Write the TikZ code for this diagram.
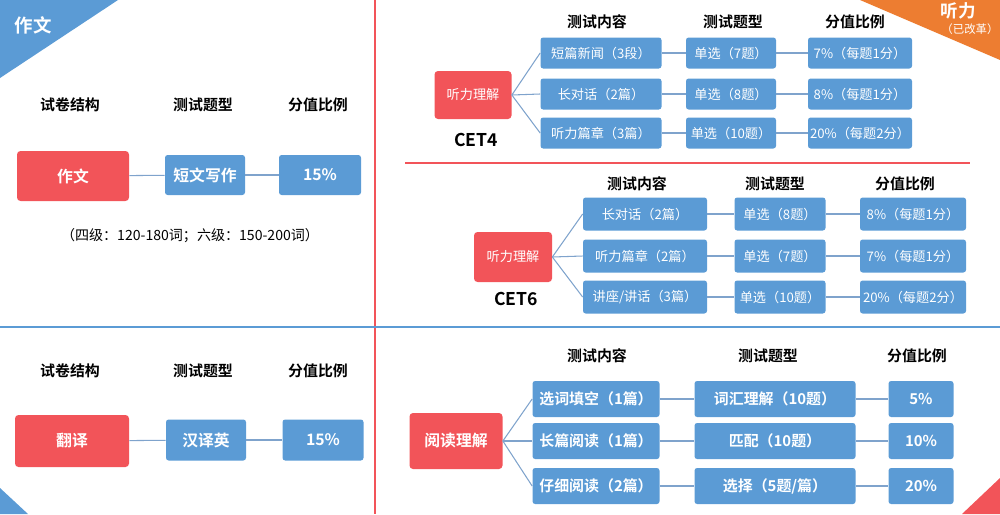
\documentclass[tikz,border=0pt]{standalone}
\usepackage{fontspec}
\setmainfont{Noto Sans CJK SC}
\newfontfamily\cjkb{Noto Sans CJK SC Bold}
\begin{document}
\begin{tikzpicture}[x=0.02cm,y=-0.02cm,
  redb/.style={fill=myred,rounded corners=2pt,text=white,font=\cjkb\fontsize{9}{10}\selectfont},
  blub/.style={fill=myblue,rounded corners=1.5pt,text=white,inner xsep=1pt,font=\fontsize{7.5}{9}\selectfont},
  hdr/.style={font=\cjkb\fontsize{8.5}{10}\selectfont},
  conn/.style={draw=linec,line width=0.6pt}]
\definecolor{myred}{HTML}{F25459}
\definecolor{myblue}{HTML}{5B9BD5}
\definecolor{myorange}{HTML}{ED7D31}
\definecolor{linec}{HTML}{7FA3CC}
\useasboundingbox (0,0) rectangle (1000,514);
% frame lines
\draw[myred,line width=1.6pt] (375,0) -- (375,514);
\draw[myblue,line width=1.6pt] (0,327) -- (1000,327);
\draw[myred,line width=1.4pt] (405,163) -- (970,163);
% corner triangles
\fill[myblue] (0,0) -- (118,0) -- (0,78) -- cycle;
\node[text=white,font=\cjkb\fontsize{10.5}{12}\selectfont] (t1) at (33,25) {作文};
\fill[myblue] (0,488) -- (28,514) -- (0,514) -- cycle;
\fill[myred] (1000,478) -- (1000,514) -- (962,514) -- cycle;
\fill[myorange] (860,0) -- (1000,0) -- (1000,60) -- cycle;
\node[text=white,font=\cjkb\fontsize{10}{12}\selectfont] (t2) at (958,11) {听力};
\node[text=white,font=\fontsize{6.5}{8}\selectfont] (t3) at (970,29) {（已改革）};
% ---- writing
\node[hdr] (h1) at (70,105) {试卷结构};
\node[hdr] (h2) at (203,105) {测试题型};
\node[hdr] (h3) at (318,105) {分值比例};
\node[redb,minimum width=112*0.02cm,minimum height=50*0.02cm] (w1) at (73,176) {作文};
\node[blub,font=\cjkb\fontsize{9}{10}\selectfont,minimum width=80*0.02cm,minimum height=40*0.02cm] (w2) at (205,175) {短文写作};
\node[blub,font=\cjkb\fontsize{9}{10}\selectfont,minimum width=82*0.02cm,minimum height=40*0.02cm] (w3) at (320,175) {15\%};
\draw[conn] (w1) -- (w2); \draw[conn] (w2) -- (w3);
\node[font=\fontsize{8}{10}\selectfont] (wn) at (190,236) {（四级：120-180词；六级：150-200词）};
% ---- translation
\node[hdr] (k1) at (70,371) {试卷结构};
\node[hdr] (k2) at (203,371) {测试题型};
\node[hdr] (k3) at (318,371) {分值比例};
\node[redb,minimum width=114*0.02cm,minimum height=52*0.02cm] (f1) at (72,441) {翻译};
\node[blub,font=\cjkb\fontsize{9}{10}\selectfont,minimum width=80*0.02cm,minimum height=41*0.02cm] (f2) at (206,440) {汉译英};
\node[blub,font=\cjkb\fontsize{9}{10}\selectfont,minimum width=81*0.02cm,minimum height=41*0.02cm] (f3) at (323,440) {15\%};
\draw[conn] (f1) -- (f2); \draw[conn] (f2) -- (f3);
% ---- CET4
\node[hdr] (a1) at (597,22) {测试内容};
\node[hdr] (a2) at (733,22) {测试题型};
\node[hdr] (a3) at (855,22) {分值比例};
\node[redb,font=\fontsize{7.5}{9}\selectfont,minimum width=77*0.02cm,minimum height=48*0.02cm] (c4) at (473,95) {听力理解};
\node[font=\cjkb\fontsize{10}{12}\selectfont] (c4l) at (476,140) {CET4};
\foreach \n/\y/\a/\b/\c in {1/53/{短篇新闻（3段）}/{单选（7题）}/{7\%（每题1分）},
                             2/94/{长对话（2篇）}/{单选（8题）}/{8\%（每题1分）},
                             3/133/{听力篇章（3篇）}/{单选（10题）}/{20\%（每题2分）}}{
  \node[blub,minimum width=121*0.02cm,minimum height=31*0.02cm] (p\n) at (601,\y) {\a};
  \node[blub,minimum width=90*0.02cm,minimum height=31*0.02cm] (q\n) at (731,\y) {\b};
  \node[blub,minimum width=104*0.02cm,minimum height=31*0.02cm] (r\n) at (860,\y) {\c};
  \draw[conn] (c4.east) -- (p\n.west);
  \draw[conn] (p\n) -- (q\n); \draw[conn] (q\n) -- (r\n);
}
% ---- CET6
\node[hdr] (b1) at (637,184) {测试内容};
\node[hdr] (b2) at (775,184) {测试题型};
\node[hdr] (b3) at (905,184) {分值比例};
\node[redb,font=\fontsize{7.5}{9}\selectfont,minimum width=78*0.02cm,minimum height=50*0.02cm] (c6) at (513,257) {听力理解};
\node[font=\cjkb\fontsize{10}{12}\selectfont] (c6l) at (516,299) {CET6};
\foreach \n/\y/\a/\b/\c in {1/214/{长对话（2篇）}/{单选（8题）}/{8\%（每题1分）},
                             2/256/{听力篇章（2篇）}/{单选（7题）}/{7\%（每题1分）},
                             3/297/{讲座/讲话（3篇）}/{单选（10题）}/{20\%（每题2分）}}{
  \node[blub,minimum width=124*0.02cm,minimum height=33*0.02cm] (s\n) at (645,\y) {\a};
  \node[blub,minimum width=91*0.02cm,minimum height=33*0.02cm] (u\n) at (780,\y) {\b};
  \node[blub,minimum width=106*0.02cm,minimum height=33*0.02cm] (v\n) at (913,\y) {\c};
  \draw[conn] (c6.east) -- (s\n.west);
  \draw[conn] (s\n) -- (u\n); \draw[conn] (u\n) -- (v\n);
}
% ---- Reading
\node[hdr] (d1) at (597,356) {测试内容};
\node[hdr] (d2) at (768,356) {测试题型};
\node[hdr] (d3) at (917,356) {分值比例};
\node[redb,minimum width=93*0.02cm,minimum height=56*0.02cm] (rd) at (456,441) {阅读理解};
\foreach \n/\y/\a/\b/\c in {1/399/{选词填空（1篇）}/{词汇理解（10题）}/{5\%},
                             2/441/{长篇阅读（1篇）}/{匹配（10题）}/{10\%},
                             3/486/{仔细阅读（2篇）}/{选择（5题/篇）}/{20\%}}{
  \node[blub,font=\cjkb\fontsize{8.5}{10}\selectfont,minimum width=127*0.02cm,minimum height=36*0.02cm] (x\n) at (596,\y) {\a};
  \node[blub,font=\cjkb\fontsize{8.5}{10}\selectfont,minimum width=161*0.02cm,minimum height=36*0.02cm] (y\n) at (775,\y) {\b};
  \node[blub,font=\cjkb\fontsize{8.5}{10}\selectfont,minimum width=65*0.02cm,minimum height=36*0.02cm] (z\n) at (921,\y) {\c};
  \draw[conn] (rd.east) -- (x\n.west);
  \draw[conn] (x\n) -- (y\n); \draw[conn] (y\n) -- (z\n);
}
\end{tikzpicture}
\end{document}
